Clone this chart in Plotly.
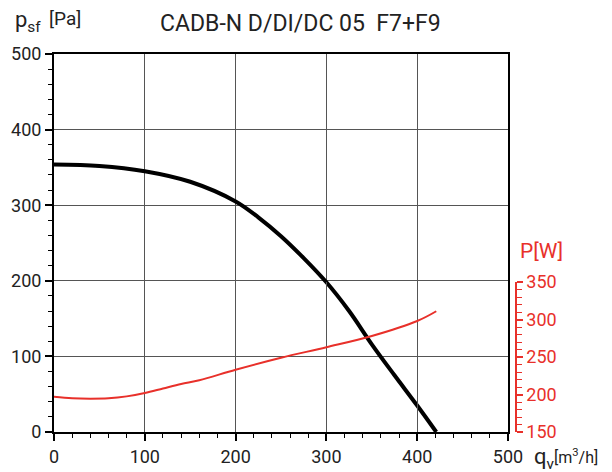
import plotly.graph_objects as go

# Data
q_pressure = [0, 50, 100, 150, 200, 225, 250, 275, 300, 325, 350, 375, 400, 421]
p_sf = [354, 352, 345, 331, 305, 284, 259, 230, 198, 160, 116, 75, 35, 0]

q_power = [0, 20, 40, 60, 80, 100, 120, 140, 160, 200, 250, 300, 350, 400, 421]
power_w = [197, 195, 194.5, 195, 197.5, 202, 208, 214, 219, 233, 249, 263, 278, 298, 311]

title_text = "CADB-N D/DI/DC 05  F7+F9"
RED = "#e8302a"
TXT = "#222222"

# page has an 8px body margin; figure is sized to fill the rest
OFF = 8
W, H = 612 - OFF, 472 - OFF
ml, mr, mt, mb = 54 - OFF, 40, 54 - OFF, 40
pw = W - ml - mr
x_end = (508 - 54) / pw
y2_pos = (516 - 54) / pw
title_x = (300 - 54) / pw

fig = go.Figure()
fig.add_trace(go.Scatter(x=q_pressure, y=p_sf, mode="lines",
                         line=dict(color="black", width=4, shape="spline", smoothing=1),
                         xaxis="x", yaxis="y", showlegend=False))
fig.add_trace(go.Scatter(x=q_power, y=power_w, mode="lines",
                         line=dict(color=RED, width=2, shape="spline"),
                         xaxis="x", yaxis="y2", showlegend=False))

fig.update_layout(
    width=W, height=H,
    margin=dict(l=ml, r=mr, t=mt, b=mb, autoexpand=False),
    paper_bgcolor="white", plot_bgcolor="rgba(0,0,0,0)",
    font=dict(family="Roboto", size=18, color=TXT),
    xaxis=dict(domain=[0, x_end], range=[0, 500], dtick=100, tick0=0,
               showgrid=True, gridcolor="#555555", gridwidth=1,
               showline=True, linecolor="black", linewidth=2, mirror=True,
               ticks="outside", ticklen=7, tickwidth=1.5, tickcolor="black",
               minor=dict(dtick=20, ticks="outside", ticklen=4, tickwidth=1.2,
                          tickcolor="black", showgrid=False),
               zeroline=False, automargin=False),
    yaxis=dict(domain=[0, 1], range=[0, 500], dtick=100, tick0=0,
               showgrid=True, gridcolor="#555555", gridwidth=1,
               showline=True, linecolor="black", linewidth=2, mirror=True,
               ticks="outside", ticklen=7, tickwidth=1.5, tickcolor="black",
               minor=dict(dtick=20, ticks="outside", ticklen=4, tickwidth=1.2,
                          tickcolor="black", showgrid=False),
               zeroline=False, automargin=False),
    yaxis2=dict(domain=[0, 200 / 504], range=[150, 350], dtick=50, tick0=150,
                anchor="free", position=y2_pos, side="right",
                showgrid=False, zeroline=False, automargin=False,
                showline=True, linecolor=RED, linewidth=1.5,
                ticks="outside", ticklen=6, tickwidth=1.5, tickcolor=RED,
                tickfont=dict(color=RED, size=18),
                minor=dict(dtick=10, ticks="outside", ticklen=5, tickwidth=1.2,
                           tickcolor=RED, showgrid=False)),
)

fig.add_annotation(text=title_text, xref="paper", yref="paper",
                   x=title_x, y=1, yshift=31, showarrow=False,
                   xanchor="center", yanchor="middle",
                   font=dict(size=23, color=TXT))
fig.add_annotation(text="p<sub>sf</sub>", xref="paper", yref="paper",
                   x=0, y=1, xshift=-41, yshift=33, showarrow=False,
                   xanchor="left", yanchor="middle",
                   font=dict(size=22, color=TXT))
fig.add_annotation(text="[Pa]", xref="paper", yref="paper",
                   x=0, y=1, xshift=-7, yshift=36, showarrow=False,
                   xanchor="left", yanchor="middle",
                   font=dict(size=19, color=TXT))
fig.add_annotation(text="q<sub>v</sub>", xref="paper", yref="paper",
                   x=x_end, y=0, xshift=24, yshift=-26, showarrow=False,
                   xanchor="left", yanchor="middle",
                   font=dict(size=22, color=TXT))
fig.add_annotation(text="[m<sup>3</sup>/h]", xref="paper", yref="paper",
                   x=x_end, y=0, xshift=44, yshift=-24, showarrow=False,
                   xanchor="left", yanchor="middle",
                   font=dict(size=16, color=TXT))
fig.add_annotation(text="P[W]", xref="paper", yref="paper",
                   x=y2_pos, y=200 / 504, xshift=2, yshift=31, showarrow=False,
                   xanchor="left", yanchor="middle",
                   font=dict(size=21, color=RED))

fig.write_html("out.html")
